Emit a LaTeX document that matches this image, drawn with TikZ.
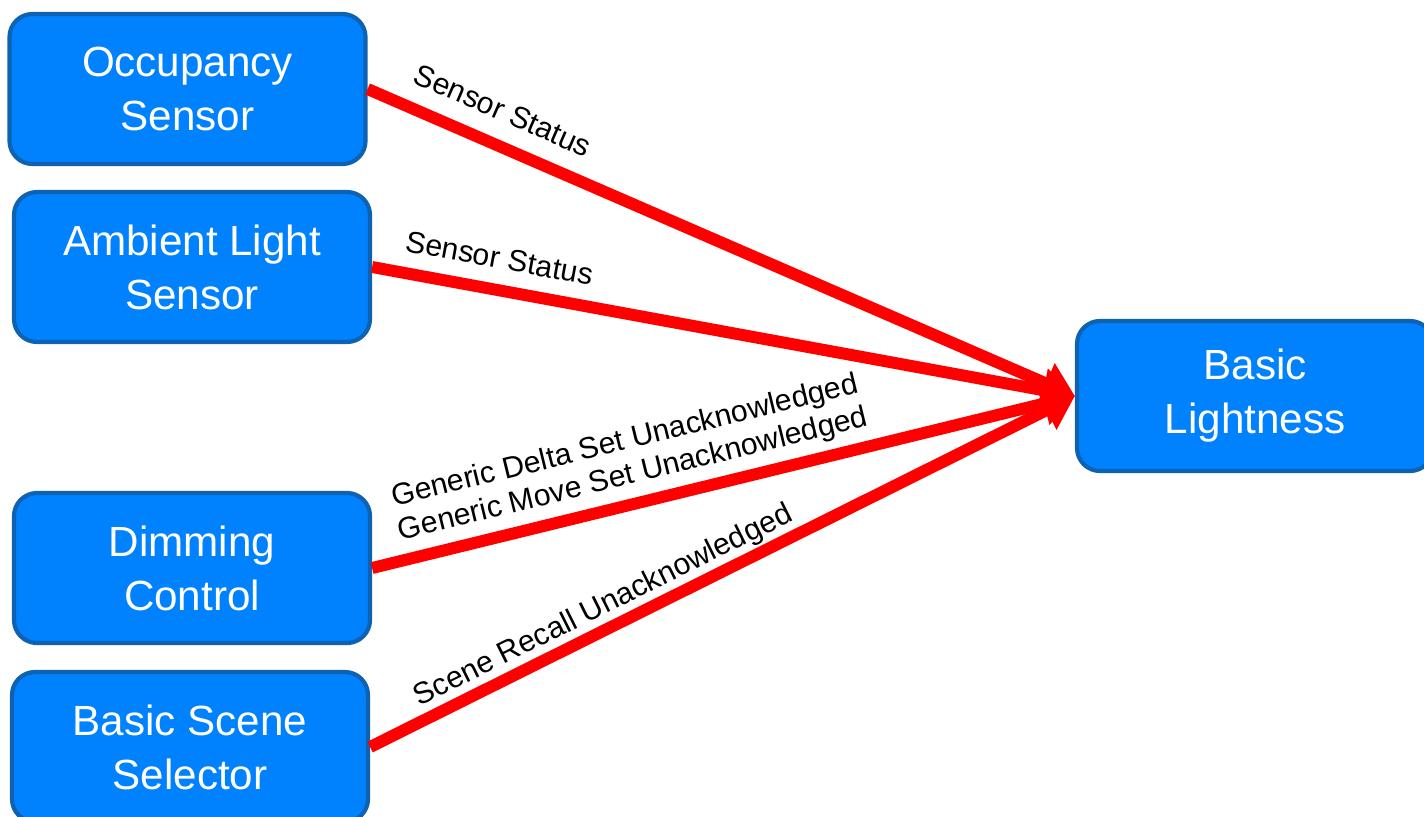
\documentclass[tikz,border=0pt]{standalone}
\usepackage{fontspec}
\setmainfont{Liberation Sans}
\usetikzlibrary{arrows.meta}
\definecolor{boxblue}{RGB}{0,130,255}
\definecolor{boxedge}{RGB}{14,98,178}

\begin{document}
\begin{tikzpicture}[
		model/.style={rectangle, rounded corners=2.3mm, draw=boxedge, line width=1.2pt, fill=boxblue, text=white, minimum width=3.56cm, minimum height=1.5cm, align=center, font=\fontsize{12}{15.4}\selectfont},
		msg/.style={draw=red, line width=3.4pt, -{Triangle[length=9pt, width=12pt]}},
		msglabel/.style={font=\fontsize{8.6}{9.8}\selectfont, sloped, inner sep=0pt, align=center}
		]
		\useasboundingbox (0,0) rectangle (14.24,8.16);
		\node[model] (occ) at (1.875, 7.27) {Occupancy\\Sensor};
		\node[model] (amb) at (1.92, 5.49) {Ambient Light\\Sensor};
		\node[model] (dim) at (1.92, 2.48) {Dimming\\Control};
		\node[model] (scene) at (1.90, 0.69) {Basic Scene\\Selector};
		\node[model] (light) at (12.55, 4.20) {Basic\\Lightness};
		
		\draw[msg] (occ.east) to node[msglabel, above=5pt, pos=0.172]{Sensor Status} (light.west);
		\draw[msg] (amb.east) to node[msglabel, above=4.3pt, pos=0.173]{Sensor Status} (light.west);
		\draw[msg] (dim.east) to node[msglabel, above=2.2pt, pos=0.381]{Generic Delta Set Unacknowledged\\Generic Move Set Unacknowledged} (light.west);
		\draw[msg] (scene.east) to node[msglabel, above=0.5pt, pos=0.345]{Scene Recall Unacknowledged} (light.west);
\end{tikzpicture}
\end{document}
